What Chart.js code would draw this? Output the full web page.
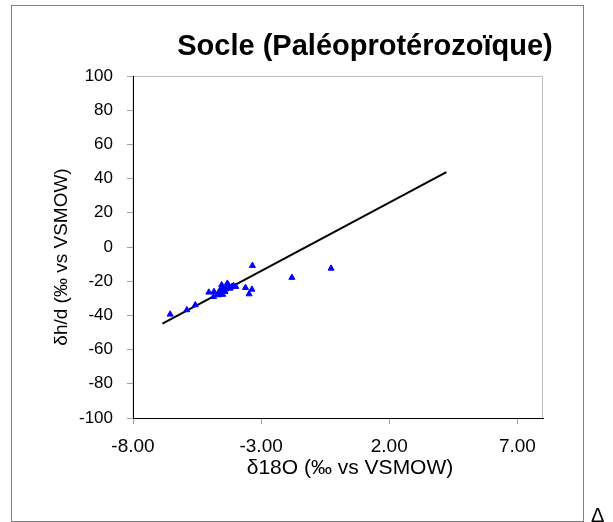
<!DOCTYPE html>
<html lang="fr">
<head>
    <meta charset="UTF-8">
    <title>Socle (Paléoprotérozoïque)</title>
    <script src="https://cdn.jsdelivr.net/npm/chart.js@4"></script>
    <style>
        body {
            margin: 0;
            padding: 0;
            background: white;
            font-family: "Liberation Sans", Arial, sans-serif;
            overflow: hidden;
        }

        .wrap {
            position: relative;
            width: 613px;
            height: 522px;
        }

        .delta {
            position: absolute;
            left: 591px;
            top: 504px;
            font-size: 20px;
            color: black;
        }
    </style>
</head>
<body>
    <div class="wrap">
        <canvas id="chart" width="613" height="522"></canvas>
        <span class="delta">Δ</span>
    </div>
    <script>
        // valeurs
        const d18O = [-6.55, -5.90, -5.57, -5.04, -4.84, -4.54, -4.32, -4.08, -4.60, -4.47,
            -4.21, -4.86, -4.67, -4.41, -4.14, -3.99, -4.54, -4.28, -4.50, -4.38,
            -4.62, -4.25, -3.34, -3.61, -3.36, -3.47, -1.80, -0.27];
        const dD = [-39.4, -36.8, -33.9, -26.5, -26.1, -22.2, -21.3, -22.6, -27.1, -25.1,
            -24.2, -29.1, -28.1, -26.1, -23.2, -23.2, -24.2, -22.2, -27.8, -24.6,
            -25.6, -23.8, -10.9, -23.8, -24.8, -27.5, -17.9, -12.5];
        // droite météorique mondiale
        const lineX = [-6.85, 4.23];
        const lineY = [-44.8, 43.84];
        const xTicks = [-8, -3, 2, 7];
        const yTicks = [-100, -80, -60, -40, -20, 0, 20, 40, 60, 80, 100];

        const font = "Liberation Sans";

        const frame = {
            id: "frame",
            beforeDraw(chart) {
                const ctx = chart.ctx;
                const a = chart.chartArea;
                ctx.save();
                ctx.fillStyle = "white";
                ctx.fillRect(0, 0, chart.width, chart.height);
                ctx.strokeStyle = "#808080";
                ctx.lineWidth = 1;
                ctx.strokeRect(11.5, 5.5, 572, 516);
                ctx.strokeStyle = "#c0c0c0";
                ctx.strokeRect(a.left, a.top + 0.5, a.right - a.left - 0.5, a.bottom - a.top);
                ctx.restore();
            },
            afterDraw(chart) {
                const ctx = chart.ctx;
                ctx.save();
                ctx.fillStyle = "black";
                ctx.textAlign = "center";
                ctx.textBaseline = "middle";
                ctx.font = "bold 29px " + font;
                ctx.fillText("Socle (Paléoprotérozoïque)", 365, 47);
                ctx.font = "21px " + font;
                ctx.fillText("δ18O (‰ vs VSMOW)", 350, 468);
                ctx.font = "19px " + font;
                ctx.translate(62, 257);
                ctx.rotate(-Math.PI / 2);
                ctx.fillText("δh/d (‰ vs VSMOW)", 0, 0);
                ctx.restore();
            }
        };

        const points = d18O.map((x, i) => ({ x: x, y: dD[i] }));
        const line = lineX.map((x, i) => ({ x: x, y: lineY[i] }));

        new Chart(document.getElementById("chart"), {
            type: "scatter",
            data: {
                datasets: [
                    {
                        label: "Socle",
                        data: points,
                        pointStyle: "triangle",
                        pointRadius: 3.5,
                        backgroundColor: "#0000ff",
                        borderColor: "#0000ff",
                        borderWidth: 1,
                    },
                    {
                        label: "GMWL",
                        type: "line",
                        data: line,
                        borderColor: "black",
                        borderWidth: 2,
                        pointRadius: 0,
                        fill: false,
                    },
                ],
            },
            options: {
                responsive: false,
                animation: false,
                layout: { padding: { left: 0, right: 70, top: 76, bottom: 0 } },
                plugins: {
                    legend: { display: false },
                    title: { display: false },
                    tooltip: { enabled: false },
                },
                scales: {
                    x: {
                        type: "linear",
                        min: -8,
                        max: 8,
                        afterBuildTicks: (s) => { s.ticks = xTicks.map(v => ({ value: v })); },
                        afterFit: (s) => { s.height = 104; },
                        grid: { drawOnChartArea: false, tickLength: 6, tickColor: "#a0a0a0" },
                        border: { color: "black", width: 1 },
                        ticks: {
                            color: "black",
                            padding: 11,
                            maxRotation: 0,
                            font: { family: font, size: 19 },
                            callback: (v) => v.toFixed(2),
                        },
                    },
                    y: {
                        type: "linear",
                        min: -100,
                        max: 100,
                        afterBuildTicks: (s) => { s.ticks = yTicks.map(v => ({ value: v })); },
                        afterFit: (s) => { s.width = 133; },
                        grid: { drawOnChartArea: false, tickLength: 6, tickColor: "#a0a0a0" },
                        border: { color: "black", width: 1 },
                        ticks: {
                            color: "black",
                            padding: 14,
                            font: { family: font, size: 17 },
                        },
                    },
                },
            },
            plugins: [frame],
        });
    </script>
</body>
</html>
